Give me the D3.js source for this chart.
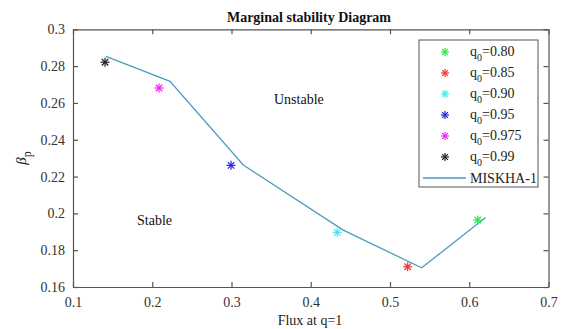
<!DOCTYPE html>
<html><head><meta charset="utf-8">
<script src="https://cdn.jsdelivr.net/npm/d3@7"></script>
<style>
body{margin:0;background:#fff;}
svg text{font-family:"Liberation Serif","Times New Roman",serif;}
</style>
</head><body>
<svg id="c" width="563" height="329"></svg>
<script>
const seriesLabels = ["0.80","0.85","0.90","0.95","0.975","0.99"];
const seriesColors = ["#22ee44","#ee3333","#33eeee","#2222dd","#ee22ee","#222222"];
const pointX = [0.6107, 0.5223, 0.4335, 0.2994, 0.2085, 0.1404];
const pointY = [0.1964, 0.1710, 0.1897, 0.2261, 0.2681, 0.2821];
const lineX = [0.1416, 0.2224, 0.3149, 0.4410, 0.5400, 0.6207];
const lineY = [0.2853, 0.2717, 0.2263, 0.1909, 0.1704, 0.1978];
const xTicks = [0.1,0.2,0.3,0.4,0.5,0.6,0.7];
const yTicks = [0.16,0.18,0.2,0.22,0.24,0.26,0.28,0.3];

const svg = d3.select("#c");
const L=73, R=548.5, T=29.3, B=287;
const x = d3.scaleLinear().domain([0.1,0.7]).range([L,R]);
const y = d3.scaleLinear().domain([0.16,0.3]).range([B,T]);
const axisCol="#555";
const serif = "'Liberation Serif','Times New Roman',serif";

const fmt = d => String(+d.toFixed(2));
const gx = svg.append("g").attr("transform",`translate(0,${B})`)
  .call(d3.axisBottom(x).tickValues(xTicks).tickFormat(fmt).tickSizeInner(-5).tickSizeOuter(0).tickPadding(10));
const gx2 = svg.append("g").attr("transform",`translate(0,${T})`)
  .call(d3.axisTop(x).tickValues(xTicks).tickFormat("").tickSizeInner(-5).tickSizeOuter(0));
const gy = svg.append("g").attr("transform",`translate(${L},0)`)
  .call(d3.axisLeft(y).tickValues(yTicks).tickFormat(fmt).tickSizeInner(-5).tickSizeOuter(0).tickPadding(8));
const gy2 = svg.append("g").attr("transform",`translate(${R},0)`)
  .call(d3.axisRight(y).tickValues(yTicks).tickFormat("").tickSizeInner(-5).tickSizeOuter(0));
[gx,gx2,gy,gy2].forEach(g=>{
  g.attr("font-family",serif).attr("font-size",14);
  g.selectAll("path,line").attr("stroke",axisCol).attr("stroke-width",1.2);
  g.selectAll("text").attr("fill","#333");
});

const pts = lineX.map((v,i)=>[v,lineY[i]]);
svg.append("path").datum(pts)
  .attr("d",d3.line().x(d=>x(d[0])).y(d=>y(d[1])))
  .attr("fill","none").attr("stroke","#4a9cc0").attr("stroke-width",1.3);

function star(g,cx,cy,col,r){
  const s=g.append("g").attr("transform",`translate(${cx},${cy})`).attr("stroke",col).attr("stroke-width",1.2);
  s.append("line").attr("x1",-r).attr("x2",r).attr("y1",0).attr("y2",0);
  s.append("line").attr("x1",0).attr("x2",0).attr("y1",-r).attr("y2",r);
  const k=r*0.72;
  s.append("line").attr("x1",-k).attr("x2",k).attr("y1",-k).attr("y2",k);
  s.append("line").attr("x1",-k).attr("x2",k).attr("y1",k).attr("y2",-k);
}
pointX.forEach((v,i)=>star(svg,x(v),y(pointY[i]),seriesColors[i],4.5));

svg.append("text").attr("x",274).attr("y",104).text("Unstable").style("font-size","14px").attr("fill","#111");
svg.append("text").attr("x",137).attr("y",225).text("Stable").style("font-size","14px").attr("fill","#111");

svg.append("text").attr("x",309).attr("y",22).attr("text-anchor","middle")
  .style("font-size","14px").style("font-weight","bold").attr("fill","#111").text("Marginal stability Diagram");
svg.append("text").attr("x",310).attr("y",325).attr("text-anchor","middle")
  .style("font-size","14px").attr("fill","#222").text("Flux at q=1");
const yl = svg.append("text").attr("transform","translate(26,158) rotate(-90)").attr("text-anchor","middle")
  .style("font-size","15px").attr("fill","#222");
yl.append("tspan").style("font-style","italic").text("β");
yl.append("tspan").attr("dy",5).style("font-size","12px").text("p");

const lg = svg.append("g");
lg.append("rect").attr("x",419).attr("y",40).attr("width",119).attr("height",147)
  .attr("fill","#fff").attr("stroke",axisCol).attr("stroke-width",1);
seriesLabels.forEach((lab,i)=>{
  const yy = 52 + i*21;
  star(lg,445,yy,seriesColors[i],4);
  const t = lg.append("text").attr("x",470).attr("y",yy+4).style("font-size","14px").attr("fill","#222");
  t.append("tspan").text("q");
  t.append("tspan").attr("dy",5).style("font-size","10px").text("0");
  t.append("tspan").attr("dy",-5).text("=" + lab);
});
lg.append("line").attr("x1",423).attr("x2",466).attr("y1",178).attr("y2",178)
  .attr("stroke","#4a9cc0").attr("stroke-width",1.3);
lg.append("text").attr("x",470).attr("y",183).style("font-size","14px").attr("fill","#222").text("MISKHA-1");
</script>
</body></html>
